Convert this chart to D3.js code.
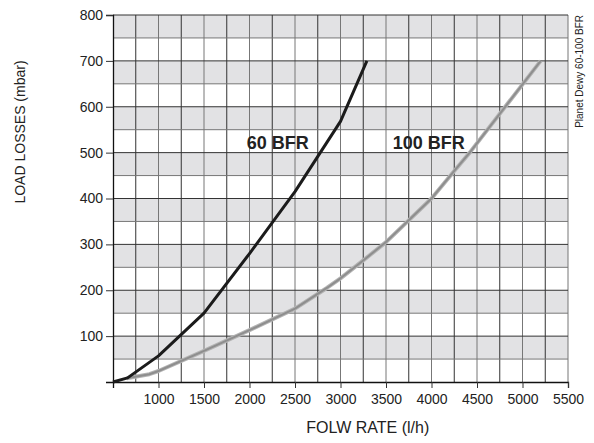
<html>
    <head>
        <meta charset="utf-8">
        <title>Load losses</title>
        <style type="text/css">
          body { margin: 0; background: #fff; }
          text { font-family: "Liberation Sans", Arial, sans-serif; fill: #222; }
        </style>
        <script src="https://d3js.org/d3.v7.min.js"></script>
    </head>
    <body>
      <svg width="594" height="443"></svg>
      <script>
        // values
        var flow60 = [500, 660, 1000, 1500, 2000, 2500, 3000, 3290];
        var loss60 = [0, 9, 57, 150, 280, 415, 568, 700];
        var flow100 = [650, 900, 1000, 1500, 2000, 2500, 2850, 3000, 3250, 3500, 4000, 4250, 4420, 5200];
        var loss100 = [8, 17, 24, 68, 113, 160, 205, 226, 265, 305, 400, 460, 500, 700];
        var xTicks = [1000, 1500, 2000, 2500, 3000, 3500, 4000, 4500, 5000, 5500];
        var yTicks = [100, 200, 300, 400, 500, 600, 700, 800];

        var svg = d3.select("svg"),
            margin = {top: 15, right: 26, bottom: 61, left: 113},
            width = +svg.attr("width") - margin.left - margin.right,
            height = +svg.attr("height") - margin.top - margin.bottom,
            g = svg.append("g").attr("transform", `translate(${margin.left},${margin.top})`);

        var x = d3.scaleLinear().domain([500, 5500]).range([0, width]);
        var y = d3.scaleLinear().domain([0, 800]).range([height, 0]);

        // alternating bands
        var bands = d3.range(50, 800, 100);
        g.selectAll(".band")
            .data(bands)
            .enter().append("rect")
              .attr("class", "band")
              .attr("x", 0)
              .attr("width", width)
              .attr("y", d => y(d + 50))
              .attr("height", d => y(d) - y(d + 50))
              .attr("fill", "#e2e2e4");

        // grid
        g.selectAll(".vgrid")
            .data(d3.range(750, 5501, 250))
            .enter().append("line")
              .attr("x1", d => x(d)).attr("x2", d => x(d))
              .attr("y1", 0).attr("y2", height)
              .attr("stroke", (d, i) => i % 2 ? "#777" : "#333")
              .attr("stroke-width", 1);
        g.selectAll(".hgrid")
            .data(d3.range(50, 801, 50))
            .enter().append("line")
              .attr("x1", 0).attr("x2", width)
              .attr("y1", d => y(d)).attr("y2", d => y(d))
              .attr("stroke", (d, i) => i % 2 ? "#333" : "#777")
              .attr("stroke-width", 1);

        // axes
        var xAxis = g.append("g")
            .attr("transform", `translate(0,${height})`)
            .call(d3.axisBottom(x).tickValues(xTicks).tickSize(6).tickPadding(6).tickFormat(d3.format("d")));
        var yAxis = g.append("g")
            .call(d3.axisLeft(y).tickValues(yTicks).tickSize(7).tickPadding(3).tickFormat(d3.format("d")));
        [xAxis, yAxis].forEach(function(a) {
          a.select(".domain").attr("stroke", "#111").attr("stroke-width", 1.3);
          a.selectAll(".tick line").attr("stroke", "#333");
          a.selectAll(".tick text")
              .style("font-family", "'Liberation Sans', Arial, sans-serif")
              .style("font-size", "14px")
              .attr("fill", "#222");
        });

        // curves
        var line = d3.line().x(d => x(d[0])).y(d => y(d[1]));
        var pts100 = d3.zip(flow100, loss100);
        var pts60 = d3.zip(flow60, loss60);

        g.append("path").datum(pts100)
            .attr("d", line).attr("fill", "none")
            .attr("stroke", "#b4b4b4").attr("stroke-width", 4)
            .attr("stroke-linejoin", "round");
        g.append("path").datum(pts100)
            .attr("d", line).attr("fill", "none")
            .attr("stroke", "#8e8e8e").attr("stroke-width", 2)
            .attr("stroke-linejoin", "round");
        g.append("path").datum(pts60)
            .attr("d", line).attr("fill", "none")
            .attr("stroke", "#1b1b1b").attr("stroke-width", 3)
            .attr("stroke-linejoin", "round");

        // series labels
        g.append("text")
            .attr("x", x(1970)).attr("y", y(507))
            .text("60 BFR")
            .style("font-size", "18px").style("font-weight", "bold");
        g.append("text")
            .attr("x", x(3575)).attr("y", y(507))
            .text("100 BFR")
            .style("font-size", "18px").style("font-weight", "bold");

        // titles
        svg.append("text")
            .attr("transform", `translate(25,${margin.top + y(545)}) rotate(-90)`)
            .attr("text-anchor", "middle")
            .text("LOAD LOSSES (mbar)")
            .style("font-size", "14px");
        svg.append("text")
            .attr("x", margin.left + x(3300)).attr("y", 433)
            .attr("text-anchor", "middle")
            .text("FOLW RATE (l/h)")
            .style("font-size", "16px");
        svg.append("text")
            .attr("transform", `translate(583,${margin.top}) rotate(-90)`)
            .attr("text-anchor", "end")
            .text("Planet Dewy 60-100 BFR")
            .style("font-size", "10px");
      </script>
  </body>
</html>
